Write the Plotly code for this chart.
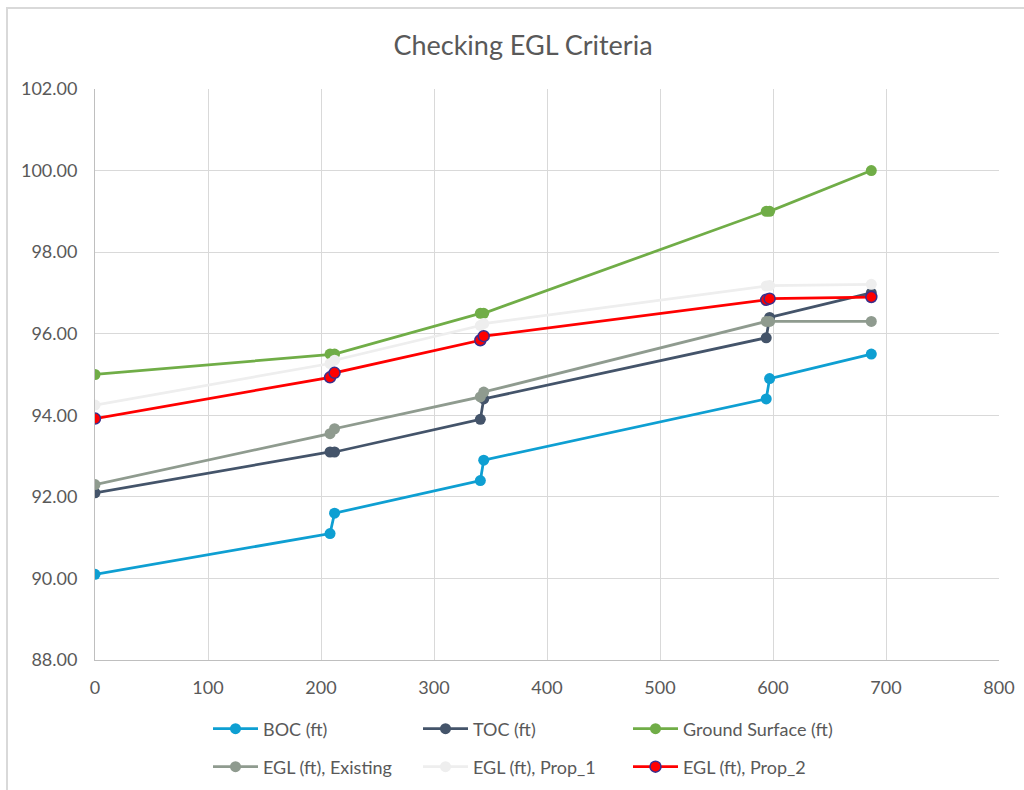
import plotly.graph_objects as go

# Stations along the alignment (ft)
station = [0, 208, 212, 341, 344, 594, 597, 687]

# Elevations (ft)
boc = [90.1, 91.1, 91.6, 92.4, 92.9, 94.4, 94.9, 95.5]
toc = [92.1, 93.1, 93.1, 93.9, 94.4, 95.9, 96.4, 97.0]
ground = [95.0, 95.5, 95.5, 96.5, 96.5, 99.0, 99.0, 100.0]
egl_existing = [92.3, 93.55, 93.67, 94.45, 94.57, 96.3, 96.3, 96.3]
egl_prop1 = [94.25, 95.27, 95.35, 96.2, 96.25, 97.17, 97.18, 97.21]
egl_prop2 = [93.92, 94.93, 95.04, 95.84, 95.94, 96.83, 96.86, 96.9]

series_names = ["BOC (ft)", "TOC (ft)", "Ground Surface (ft)",
                "EGL (ft), Existing", "EGL (ft), Prop_1", "EGL (ft), Prop_2"]
series_values = [boc, toc, ground, egl_existing, egl_prop1, egl_prop2]
line_colors = ["#0E9FD2", "#44546A", "#70AD47", "#8F9B8F", "#EEEEEE", "#FF0000"]
marker_colors = ["#0E9FD2", "#44546A", "#70AD47", "#8F9B8F", "#EEEEEE", "#FF0000"]
marker_edges = [None, None, None, None, None, "#3A2F8C"]

x_ticks = [0, 100, 200, 300, 400, 500, 600, 700, 800]
y_ticks = [88, 90, 92, 94, 96, 98, 100, 102]

FONT = "Lato"
TXT = "#595959"

# plot-area pixel geometry
L, R, T, B = 95, 999, 89, 660
W, H = 1024, 790
pw, ph = R - L, B - T


def px_x(p):
    return (p - L) / pw


def px_y(p):
    return (B - p) / ph


fig = go.Figure()

# legend cells: three columns, two rows
col_px = [208, 418, 628]
row_px = [729, 767]

layout_legends = {}
for i, (name, vals) in enumerate(zip(series_names, series_values)):
    key = "legend" if i == 0 else f"legend{i + 1}"
    marker = dict(size=11, color=marker_colors[i])
    if marker_edges[i]:
        marker["line"] = dict(color=marker_edges[i], width=1.5)
    else:
        marker["line"] = dict(width=0)
    fig.add_trace(go.Scatter(
        x=station, y=vals, name=name, mode="lines+markers",
        line=dict(color=line_colors[i], width=2.75),
        marker=marker, legend=key,
    ))
    layout_legends[key] = dict(
        x=px_x(col_px[i % 3]), xanchor="left",
        y=px_y(row_px[i // 3]), yanchor="middle",
        orientation="h", bgcolor="rgba(0,0,0,0)", itemwidth=45,
        font=dict(family=FONT, size=18, color=TXT),
    )

fig.update_layout(
    width=W, height=H,
    margin=dict(l=L, r=W - R, t=T, b=H - B, autoexpand=False),
    paper_bgcolor="white", plot_bgcolor="white",
    title=dict(text="Checking EGL Criteria", x=px_x(523), xref="paper",
               xanchor="center", y=1 - 46 / H, yanchor="middle",
               font=dict(family=FONT, size=27, color=TXT)),
    font=dict(family=FONT, color=TXT),
    showlegend=True,
    **layout_legends,
)

fig.update_xaxes(
    range=[0, 800], tickvals=x_ticks, showgrid=True, gridcolor="#D9D9D9",
    gridwidth=1, zeroline=False, showline=True, linecolor="#BFBFBF",
    linewidth=1, ticks="", ticklabelstandoff=11,
    tickfont=dict(family=FONT, size=18, color=TXT),
)
fig.update_yaxes(
    range=[88, 102], tickvals=y_ticks, tickformat=".2f", showgrid=True,
    gridcolor="#D9D9D9", gridwidth=1, zeroline=False, showline=True,
    linecolor="#BFBFBF", linewidth=1, ticks="", ticklabelstandoff=13,
    tickfont=dict(family=FONT, size=18, color=TXT),
)

# chart frame
fig.add_shape(type="rect", xref="paper", yref="paper",
              x0=px_x(7), x1=px_x(1040), y0=px_y(810), y1=px_y(8),
              line=dict(color="#D9D9D9", width=2), layer="below")

fig.write_html("out.html")
